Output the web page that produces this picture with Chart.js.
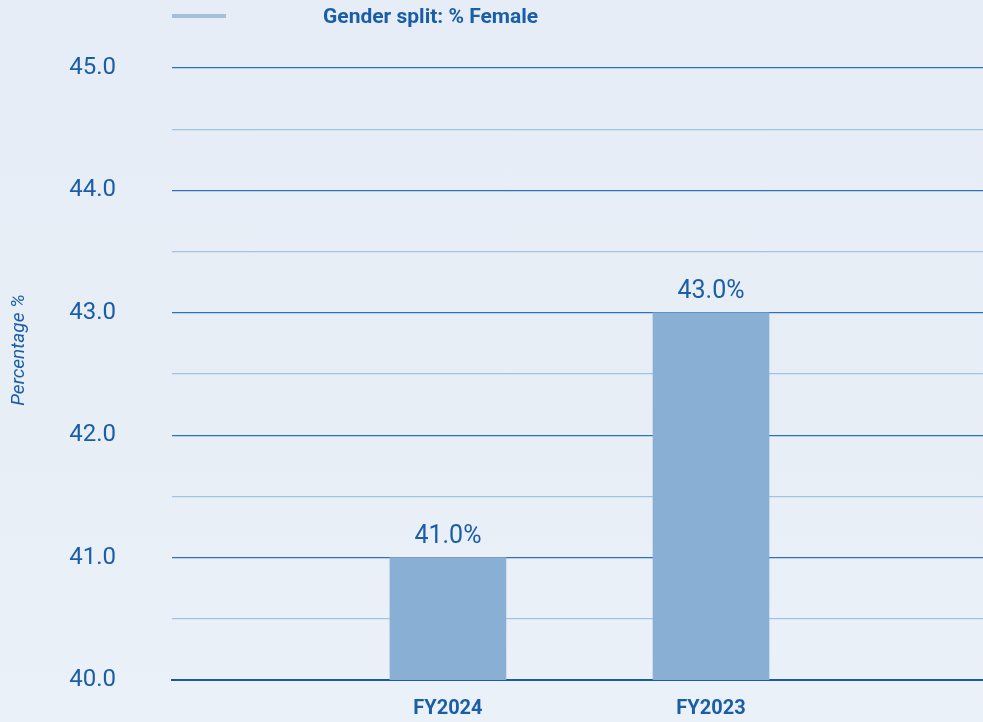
<!DOCTYPE html>
<html>
<head>
<meta charset="utf-8">
<script src="https://cdn.jsdelivr.net/npm/chart.js@4"></script>
<style>
  html, body { margin: 0; padding: 0; }
  body {
    width: 983px; height: 722px; overflow: hidden; position: relative;
    background: linear-gradient(180deg, #e6edf6 0%, #e7eef6 55%, #ebf1f8 100%);
    font-family: Roboto, "DejaVu Sans", sans-serif;
  }
  #legend { position: absolute; left: 172px; top: 4px; height: 24px; display: flex; align-items: center; }
  #legend .swatch { width: 54px; height: 4px; background: #a3bfdd; }
  #legend .txt { margin-left: 97px; font-weight: bold; font-size: 21px; color: #1b5ea8; }
  #grafico { position: absolute; left: 0; top: 0; }
</style>
</head>
<body>
<canvas id="grafico" width="983" height="722"></canvas>
<div id="legend"><div class="swatch"></div><div class="txt" id="legendTxt"></div></div>
<script>
// dados
const categorias = ['FY2024', 'FY2023'];
const valores = [41.0, 43.0];
const serieNome = 'Gender split: % Female';
const eixoY = { min: 40, max: 45, passo: 0.5 };
const tituloY = 'Percentage %';

const azulTexto = '#1b5ea8';
document.getElementById('legendTxt').textContent = serieNome;

// rótulos em cima das barras
const rotulosBarras = {
  id: 'rotulosBarras',
  afterDatasetsDraw(chart) {
    const ctx = chart.ctx;
    const meta = chart.getDatasetMeta(0);
    ctx.save();
    ctx.fillStyle = azulTexto;
    ctx.font = '25px Roboto';
    ctx.textAlign = 'center';
    ctx.textBaseline = 'alphabetic';
    meta.data.forEach((bar, i) => {
      ctx.fillText(valores[i].toFixed(1) + '%', bar.x, bar.y - 15);
    });
    ctx.restore();
  }
};

// título do eixo y
const tituloEixoY = {
  id: 'tituloEixoY',
  afterDraw(chart) {
    const ctx = chart.ctx;
    ctx.save();
    ctx.translate(19, 350);
    ctx.rotate(-Math.PI / 2);
    ctx.fillStyle = azulTexto;
    ctx.font = 'italic 19px Roboto';
    ctx.textAlign = 'center';
    ctx.textBaseline = 'middle';
    ctx.fillText(tituloY, 0, 0);
    ctx.restore();
  }
};

const grafico = new Chart(document.getElementById('grafico'), {
  type: 'bar',
  data: {
    datasets: [{
      label: serieNome,
      data: valores.map((v, i) => ({ x: i, y: v })),
      backgroundColor: '#8aafd4',
      barThickness: 116
    }]
  },
  options: {
    responsive: false,
    animation: false,
    layout: { padding: { top: 68, right: 0, bottom: 0, left: 0 } },
    plugins: { legend: { display: false }, tooltip: { enabled: false } },
    scales: {
      x: {
        type: 'linear',
        offset: false,
        min: -1.049,
        max: 2.034,
        afterBuildTicks: s => { s.ticks = categorias.map((c, i) => ({ value: i })); },
        afterFit: s => { s.height = 42; s.paddingLeft = 0; s.paddingRight = 0; },
        grid: { display: false, drawTicks: false, offset: false },
        border: { display: true, color: '#1a5aa5', width: 2 },
        ticks: {
          padding: 17,
          color: azulTexto,
          font: { family: 'Roboto', size: 20, weight: 'bold' },
          callback: v => categorias[v] ?? ''
        }
      },
      y: {
        min: eixoY.min,
        max: eixoY.max,
        // largura fixa e sem padding extra em cima/baixo
        afterFit: s => { s.width = 172; s.paddingTop = 0; s.paddingBottom = 0; },
        border: { display: false },
        grid: {
          drawTicks: false,
          color: c => (c.tick.value % 1 === 0 ? '#2e72bf' : '#a4c2e4'),
          lineWidth: c => (c.tick.value === eixoY.min ? 0 : 1.3)
        },
        ticks: {
          stepSize: eixoY.passo,
          padding: 56,
          color: azulTexto,
          font: { family: 'Roboto', size: 24 },
          callback: v => (v % 1 === 0 ? v.toFixed(1) : '')
        }
      }
    }
  },
  plugins: [rotulosBarras, tituloEixoY]
});
</script>
</body>
</html>
